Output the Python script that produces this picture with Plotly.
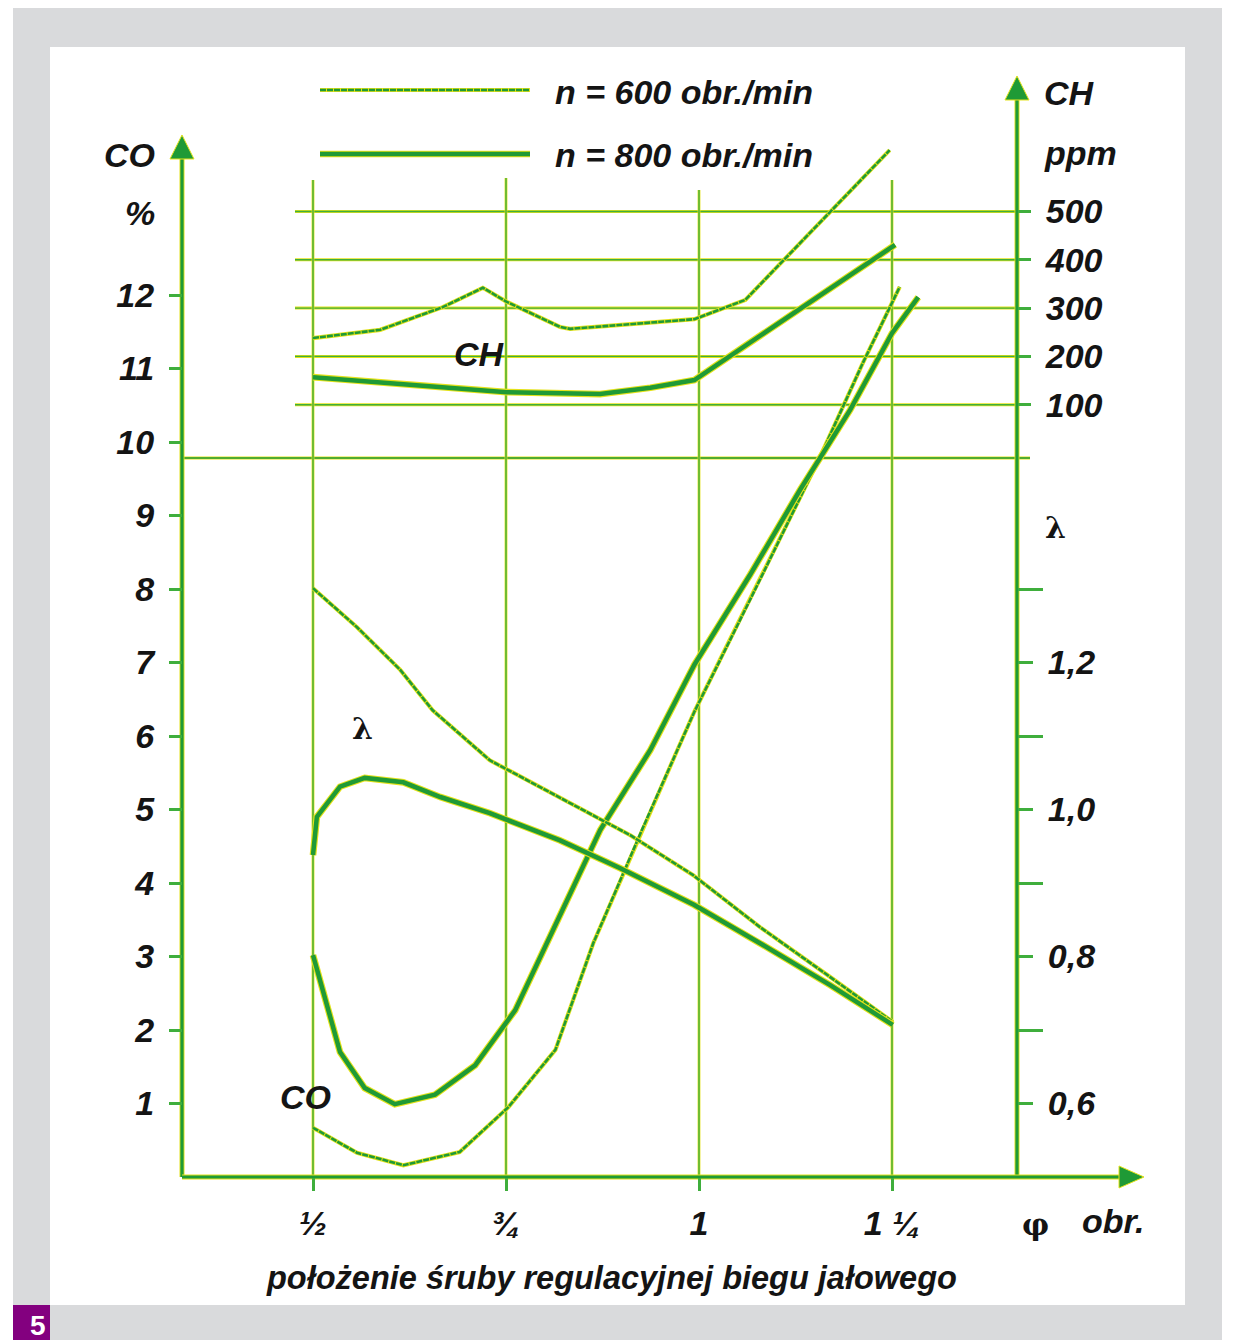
import plotly.graph_objects as go

# ---- data -------------------------------------------------------------
# idle-screw position in turns
x_ticks = [0.5, 0.75, 1.0, 1.25]
x_tick_text = ["½", "¾", "1", "1 ¼"]

co_ticks = list(range(1, 13))
ch_ticks = [100, 200, 300, 400, 500]
lam_major = [0.6, 0.8, 1.0, 1.2]
lam_major_text = ["0,6", "0,8", "1,0", "1,2"]
lam_minor = [0.7, 0.9, 1.1, 1.3]

# CO [%]
co800_x = [0.5, 0.535, 0.567, 0.606, 0.658, 0.710, 0.762, 0.820, 0.872, 0.937, 0.994, 1.066, 1.131, 1.196, 1.25, 1.284]
co800_y = [3.02, 1.70, 1.21, 0.99, 1.12, 1.52, 2.27, 3.56, 4.72, 5.81, 6.97, 8.19, 9.35, 10.44, 11.48, 11.97]
co600_x = [0.5, 0.557, 0.617, 0.690, 0.753, 0.814, 0.863, 0.926, 0.972, 0.994, 1.066, 1.157, 1.212, 1.260]
co600_y = [0.67, 0.33, 0.16, 0.34, 0.95, 1.73, 3.18, 4.72, 5.81, 6.33, 7.85, 9.80, 11.07, 12.11]

# lambda
lam800_x = [0.5, 0.505, 0.535, 0.567, 0.617, 0.665, 0.729, 0.820, 0.898, 0.994, 1.079, 1.170, 1.251]
lam800_y = [0.938, 0.990, 1.031, 1.043, 1.037, 1.017, 0.995, 0.958, 0.920, 0.870, 0.818, 0.761, 0.707]
lam600_x = [0.5, 0.557, 0.613, 0.655, 0.729, 0.820, 0.911, 0.992, 1.079, 1.170, 1.251]
lam600_y = [1.301, 1.248, 1.190, 1.135, 1.067, 1.016, 0.965, 0.911, 0.840, 0.772, 0.711]

# CH [ppm]
ch800_x = [0.5, 0.630, 0.751, 0.872, 0.937, 0.994, 1.254]
ch800_y = [157, 141, 126, 122, 135, 151, 431]
ch600_x = [0.5, 0.587, 0.668, 0.720, 0.751, 0.820, 0.833, 0.924, 0.994, 1.060, 1.247]
ch600_y = [238, 255, 302, 342, 313, 261, 257, 269, 277, 317, 627]

# ---- frame geometry (pixels) -----------------------------------------
W, H = 1233, 1340
PL, PR, PT, PB = 183, 1142, 60, 1177
X_AT_PL, X_PER_PX = 0.5 - (313 - PL) / 772, 1 / 772
CO_PER_PX = 1 / 73.5
CH_ZERO_PX, CH_PER_PX = 453, 100 / 48.3


def fx(px):
    return (px - PL) / (PR - PL)


def fy(py):
    return (PB - py) / (PB - PT)


GREEN = "#1f9a36"
GRID_GREEN = "#3fae3c"
YELLOW = "#e4e21a"
INK = "#141414"
FONT = "Liberation Sans, Arial, sans-serif"


def tfont(size=34, color=INK):
    return dict(family=FONT, size=size, color=color, weight="bold", style="italic")


fig = go.Figure()


def add_curve(xs, ys, yaxis, thick):
    w = 4.5 if thick else 2.6
    fig.add_trace(go.Scatter(x=xs, y=ys, yaxis=yaxis, mode="lines",
                             line=dict(color=YELLOW, width=w + (2.2 if thick else 1.6)),
                             hoverinfo="skip", showlegend=False))
    fig.add_trace(go.Scatter(x=xs, y=ys, yaxis=yaxis, mode="lines",
                             line=dict(color=GREEN, width=w,
                                       dash="solid" if thick else "6px,1px"),
                             showlegend=False))


add_curve(co600_x, co600_y, "y", False)
add_curve(co800_x, co800_y, "y", True)
add_curve(lam600_x, lam600_y, "y3", False)
add_curve(lam800_x, lam800_y, "y3", True)
add_curve(ch600_x, ch600_y, "y2", False)
add_curve(ch800_x, ch800_y, "y2", True)

shapes = []
# page background: grey frame with white panel and the figure number box
shapes.append(dict(type="rect", xref="paper", yref="paper", x0=fx(13), x1=fx(1222), y0=fy(1340), y1=fy(8),
                   fillcolor="#d9dadc", line=dict(width=0), layer="below"))
shapes.append(dict(type="rect", xref="paper", yref="paper", x0=fx(50), x1=fx(1185), y0=fy(1305), y1=fy(47),
                   fillcolor="white", line=dict(width=0), layer="below"))
shapes.append(dict(type="rect", xref="paper", yref="paper", x0=fx(13), x1=fx(50), y0=fy(1340), y1=fy(1305),
                   fillcolor="#83007f", line=dict(width=0), layer="below"))


def seg(x0, y0, x1, y1, color, width, xref="paper", yref="paper", dash="solid"):
    shapes.append(dict(type="line", xref=xref, yref=yref, x0=x0, y0=y0, x1=x1, y1=y1,
                       line=dict(color=color, width=width, dash=dash), layer="below"))


# horizontal CH grid
for v in ch_ticks:
    seg(fx(295), v, fx(1017), v, YELLOW, 3, yref="y2")
    seg(fx(295), v, fx(1017), v, GRID_GREEN, 1.4, yref="y2")
# separator between CH field and CO/lambda field
seg(fx(183), fy(458), fx(1030), fy(458), YELLOW, 3.2)
seg(fx(183), fy(458), fx(1030), fy(458), GREEN, 1.6)

# vertical grid at the screw positions
v_tops = [180, 178, 190, 180]
for t, top in zip(x_ticks, v_tops):
    seg(t, fy(PB), t, fy(top), YELLOW, 2.8, xref="x")
    seg(t, fy(PB), t, fy(top), GRID_GREEN, 1.4, xref="x")

# axes with arrows
for (x0, y0, x1, y1) in [(182, PB, 182, 150), (1017, PB, 1017, 92), (182, PB, 1125, PB)]:
    seg(fx(x0), fy(y0), fx(x1), fy(y1), YELLOW, 5)
    seg(fx(x0), fy(y0), fx(x1), fy(y1), GREEN, 3.2)


def tri(pts):
    p = "M " + " L ".join(f"{fx(a):.5f},{fy(b):.5f}" for a, b in pts) + " Z"
    shapes.append(dict(type="path", xref="paper", yref="paper", path=p,
                       fillcolor=GREEN, line=dict(color=YELLOW, width=1), layer="above"))


tri([(182, 135), (170, 159), (194, 159)])
tri([(1017, 76), (1005, 100), (1029, 100)])
tri([(1144, PB), (1119, PB - 11), (1119, PB + 11)])

# legend samples
seg(fx(320), fy(90), fx(530), fy(90), YELLOW, 4.2)
seg(fx(320), fy(90), fx(530), fy(90), GREEN, 2.6, dash="6px,1px")
seg(fx(320), fy(154), fx(530), fy(154), YELLOW, 6.7)
seg(fx(320), fy(154), fx(530), fy(154), GREEN, 4.5)

annotations = []


def label(px, py, text, anchor="left", size=33, color=INK, weight="bold", style="italic", family=FONT):
    annotations.append(dict(xref="paper", yref="paper", x=fx(px), y=fy(py), text=text,
                            showarrow=False, xanchor=anchor, yanchor="middle",
                            font=dict(family=family, size=size, color=color, weight=weight, style=style)))


label(553, 92, "n = 600 obr./min", size=34)
label(553, 155, "n = 800 obr./min", size=34)
label(157, 155, "CO", anchor="right", size=34)
label(157, 213, "%", anchor="right", size=34)
label(1042, 93, "CH", size=34)
label(1042, 153, "ppm", size=34)
label(1055, 527, "λ", anchor="center", style="normal", family="DejaVu Serif, serif", size=30)
label(479, 354, "CH", anchor="center", size=34)
label(362, 728, "λ", anchor="center", style="normal", family="DejaVu Serif, serif", size=30)
label(305, 1097, "CO", anchor="center", size=34)
label(1035, 1224, "φ", anchor="center", style="normal", family="DejaVu Serif, serif", size=30)
label(1113, 1221, "obr.", anchor="center", size=34)
label(611, 1278, "położenie śruby regulacyjnej biegu jałowego", anchor="center", size=32.5)
label(38, 1325, "5", anchor="center", size=28, color="white", style="normal")

axis_common = dict(showgrid=False, zeroline=False, showline=False, ticks="outside",
                   tickcolor=GRID_GREEN, tickwidth=3, tickfont=tfont(34), fixedrange=True)

fig.update_layout(
    width=W, height=H,
    margin=dict(l=PL, r=W - PR, t=PT, b=H - PB),
    paper_bgcolor="white", plot_bgcolor="rgba(0,0,0,0)",
    showlegend=False,
    xaxis=dict(range=[X_AT_PL, X_AT_PL + (PR - PL) * X_PER_PX], tickvals=x_ticks, ticktext=x_tick_text,
               ticklen=13, ticklabelstandoff=3, **axis_common),
    yaxis=dict(range=[0, (PB - PT) * CO_PER_PX], tickvals=co_ticks, ticklen=13,
               ticklabelstandoff=8, **axis_common),
    yaxis2=dict(range=[-(PB - CH_ZERO_PX) * CH_PER_PX, (CH_ZERO_PX - PT) * CH_PER_PX],
                tickvals=ch_ticks, ticklen=13, ticklabelstandoff=8, overlaying="y", side="right",
                anchor="free", position=fx(1017), **axis_common),
    yaxis3=dict(range=[0.5, 0.5 + (PB - PT) / 735], tickvals=lam_major, ticktext=lam_major_text,
                ticklen=15, ticklabelstandoff=8, overlaying="y", side="right",
                anchor="free", position=fx(1017),
                minor=dict(tickvals=lam_minor, ticks="outside", ticklen=25, tickwidth=3, tickcolor=GRID_GREEN),
                **axis_common),
    shapes=shapes,
    annotations=annotations,
)

fig.write_html("out.html")
